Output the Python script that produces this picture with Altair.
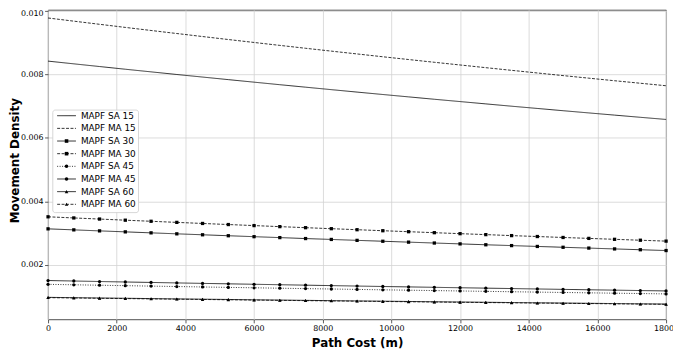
import altair as alt
import pandas as pd

cost = [0, 750, 1500, 2250, 3000, 3750, 4500, 5250, 6000, 6750, 7500, 8250,
        9000, 9750, 10500, 11250, 12000, 12750, 13500, 14250, 15000, 15750,
        16500, 17250, 18000]

series_names = ["MAPF SA 15", "MAPF MA 15", "MAPF SA 30", "MAPF MA 30",
                "MAPF SA 45", "MAPF MA 45", "MAPF SA 60", "MAPF MA 60"]

sa15 = [0.008420, 0.008334, 0.008249, 0.008164, 0.008081, 0.007998, 0.007917,
        0.007836, 0.007756, 0.007676, 0.007598, 0.007520, 0.007443, 0.007367,
        0.007292, 0.007217, 0.007144, 0.007071, 0.006998, 0.006927, 0.006856,
        0.006786, 0.006717, 0.006648, 0.006580]
ma15 = [0.009780, 0.009680, 0.009581, 0.009483, 0.009386, 0.009290, 0.009195,
        0.009101, 0.009008, 0.008916, 0.008825, 0.008735, 0.008646, 0.008557,
        0.008470, 0.008383, 0.008298, 0.008213, 0.008129, 0.008046, 0.007963,
        0.007882, 0.007801, 0.007722, 0.007643]
sa30 = [0.003130, 0.003098, 0.003066, 0.003035, 0.003004, 0.002973, 0.002943,
        0.002913, 0.002883, 0.002854, 0.002824, 0.002796, 0.002767, 0.002739,
        0.002711, 0.002683, 0.002656, 0.002628, 0.002602, 0.002575, 0.002549,
        0.002523, 0.002497, 0.002471, 0.002446]
ma30 = [0.003510, 0.003474, 0.003439, 0.003403, 0.003369, 0.003334, 0.003300,
        0.003266, 0.003233, 0.003200, 0.003167, 0.003135, 0.003103, 0.003071,
        0.003040, 0.003009, 0.002978, 0.002948, 0.002917, 0.002888, 0.002858,
        0.002829, 0.002800, 0.002771, 0.002743]
sa45 = [0.001380, 0.001366, 0.001352, 0.001338, 0.001324, 0.001311, 0.001297,
        0.001284, 0.001271, 0.001258, 0.001245, 0.001233, 0.001220, 0.001207,
        0.001195, 0.001183, 0.001171, 0.001159, 0.001147, 0.001135, 0.001124,
        0.001112, 0.001101, 0.001090, 0.001078]
ma45 = [0.001500, 0.001485, 0.001469, 0.001454, 0.001440, 0.001425, 0.001410,
        0.001396, 0.001382, 0.001368, 0.001354, 0.001340, 0.001326, 0.001312,
        0.001299, 0.001286, 0.001273, 0.001260, 0.001247, 0.001234, 0.001221,
        0.001209, 0.001197, 0.001184, 0.001172]
sa60 = [0.000970, 0.000960, 0.000950, 0.000941, 0.000931, 0.000921, 0.000912,
        0.000903, 0.000893, 0.000884, 0.000875, 0.000866, 0.000857, 0.000849,
        0.000840, 0.000831, 0.000823, 0.000815, 0.000806, 0.000798, 0.000790,
        0.000782, 0.000774, 0.000766, 0.000758]
ma60 = [0.000960, 0.000950, 0.000940, 0.000931, 0.000921, 0.000912, 0.000903,
        0.000893, 0.000884, 0.000875, 0.000866, 0.000857, 0.000849, 0.000840,
        0.000831, 0.000823, 0.000814, 0.000806, 0.000798, 0.000790, 0.000782,
        0.000774, 0.000766, 0.000758, 0.000750]

x_ticks = [0, 2000, 4000, 6000, 8000, 10000, 12000, 14000, 16000, 18000]
y_ticks = [0.002, 0.004, 0.006, 0.008, 0.010]

dash_styles = [[1, 0], [3, 1.5], [1, 0], [3, 1.5], [1, 1.5], [1, 0], [1, 0], [3, 1.5]]
marker_series = series_names[2:]
marker_shapes = ["square", "square", "circle", "circle", "triangle-up", "triangle-up"]
legend_rows = [0, 1, 2, 3, 4, 5, 6, 7]

rows = []
for name, vals in zip(series_names, [sa15, ma15, sa30, ma30, sa45, ma45, sa60, ma60]):
    for c, v in zip(cost, vals):
        rows.append({"cost": c, "density": v, "series": name})
df = pd.DataFrame(rows)
leg_df = pd.DataFrame({"series": series_names, "row": legend_rows})
box_df = pd.DataFrame({"box": [0]})

FONT = "DejaVu Sans"

x = alt.X("cost:Q",
          scale=alt.Scale(domain=[0, 18000], nice=False, zero=False),
          axis=alt.Axis(values=x_ticks, format="d", labelFlush=False, labelOverlap=False,
                        title="Path Cost (m)", titleFont=FONT, titleFontSize=12,
                        titleFontWeight="bold", titleColor="black",
                        titleX=312.5, titleY=27.5, titleAlign="center",
                        titleBaseline="alphabetic",
                        labelFont=FONT, labelFontSize=8, labelColor="black",
                        labelPadding=2, tickSize=3.5, tickColor="#333333",
                        tickWidth=0.8, domain=False, grid=True,
                        gridColor="#d3d3d3", gridWidth=0.8))
y = alt.Y("density:Q",
          scale=alt.Scale(domain=[0.000274, 0.010035], nice=False, zero=False),
          axis=alt.Axis(values=y_ticks, format=".3f", labelOverlap=False,
                        title="Movement Density", titleFont=FONT, titleFontSize=12,
                        titleFontWeight="bold", titleColor="black",
                        titleAngle=270, titleX=-34, titleY=152,
                        titleAlign="center", titleBaseline="middle",
                        labelFont=FONT, labelFontSize=8, labelColor="black",
                        labelOffset={"condition": {"test": "datum.value > 0.0095", "value": 2.5},
                                     "value": 0},
                        labelPadding=1.5, tickSize=3.5, tickColor="#333333",
                        tickWidth=0.8, domain=False, grid=True,
                        gridColor="#d3d3d3", gridWidth=0.8))

dash_scale = alt.Scale(domain=series_names, range=dash_styles)
shape_scale = alt.Scale(domain=marker_series, range=marker_shapes)

base = alt.Chart(df)

lines = base.mark_line(color="black", strokeWidth=0.8).encode(
    x=x, y=y,
    strokeDash=alt.StrokeDash("series:N", scale=dash_scale, legend=None),
)

points = base.transform_filter(
    alt.FieldOneOfPredicate(field="series", oneOf=marker_series)
).mark_point(filled=True, color="black", opacity=1, size=11).encode(
    x=x, y=y,
    shape=alt.Shape("series:N", scale=shape_scale, legend=None),
)

main = alt.layer(lines, points)

# legend built from the same dash / shape scales, rows placed by a row scale
row_y = alt.Y("row:Q", scale=alt.Scale(domain=[0, 7], range=[107, 196.6]), axis=None)

leg_box = alt.Chart(box_df).mark_rect(
    fill="white", stroke="#cccccc", strokeWidth=0.8, cornerRadius=2.5, opacity=1
).encode(x=alt.value(4.8), x2=alt.value(91.5), y=alt.value(101.3), y2=alt.value(205))

leg_lines = alt.Chart(leg_df).mark_rule(color="black", strokeWidth=0.8).encode(
    x=alt.value(9.2), x2=alt.value(28.2), y=row_y,
    strokeDash=alt.StrokeDash("series:N", scale=dash_scale, legend=None),
)

leg_marks = alt.Chart(leg_df).transform_filter(
    alt.FieldOneOfPredicate(field="series", oneOf=marker_series)
).mark_point(filled=True, color="black", opacity=1, size=13).encode(
    x=alt.value(18.7), y=row_y,
    shape=alt.Shape("series:N", scale=shape_scale, legend=None),
)

leg_text = alt.Chart(leg_df).mark_text(
    align="left", baseline="middle", font=FONT, fontSize=9, color="black"
).encode(x=alt.value(33.2), y=row_y, text="series:N")

chart = alt.layer(main, leg_box, leg_lines, leg_marks, leg_text).resolve_scale(
    y="independent"
).properties(
    width=625, height=313,
    padding={"left": 40.5, "top": 0, "right": 7, "bottom": 28},
    autosize=alt.AutoSizeParams(type="none"),
    background="white",
).configure_view(stroke="#222222", strokeWidth=0.8)

chart.save("out.html", embed_options={"renderer": "svg", "actions": False})
